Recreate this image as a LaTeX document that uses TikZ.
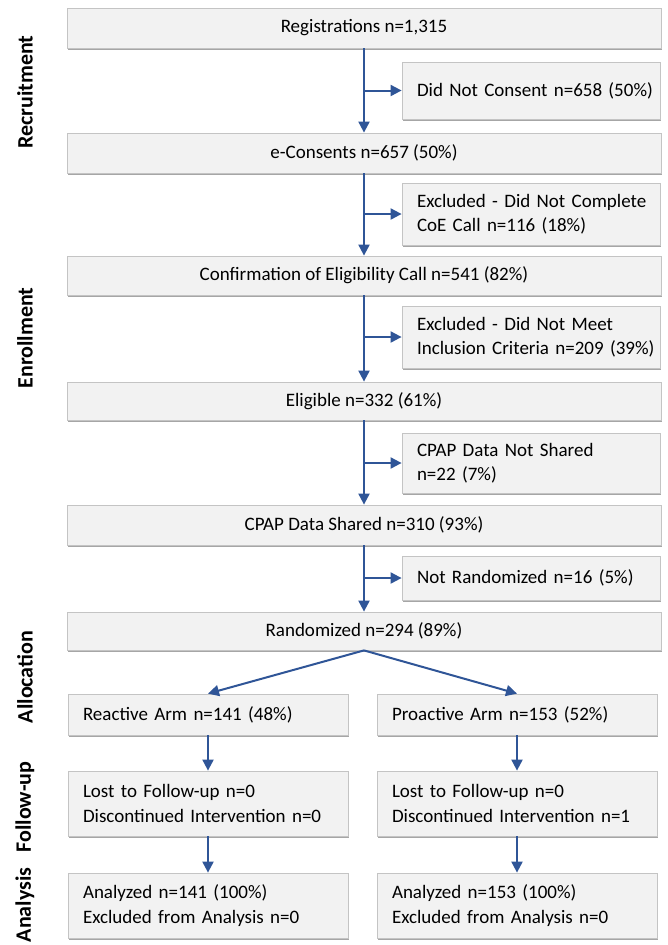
\documentclass[tikz,border=0pt]{standalone}
\usepackage{fontspec}
\setmainfont{Carlito}
\usetikzlibrary{arrows.meta,shadows}
\definecolor{boxfill}{HTML}{F2F2F2}
\definecolor{boxline}{HTML}{C4C4C4}
\definecolor{arrowblue}{HTML}{2F5597}
\tikzset{
  box/.style={draw=boxline, fill=boxfill, line width=0.8pt,
    drop shadow={shadow xshift=1.2pt, shadow yshift=-1.8pt, fill=black, opacity=0.35},
    inner sep=0pt, font=\fontsize{19}{24.5}\selectfont,
    execute at begin node={\hbadness=10000\hfuzz=200pt}},
  wide/.style={box, minimum width=594pt},
  side/.style={box, text width=228pt, inner xsep=15pt, align=left},
  arm/.style={box, text width=250pt, inner xsep=15pt, align=left},
  arr/.style={draw=arrowblue, line width=2pt, -{Triangle[length=11pt,width=11pt]}},
  lab/.style={rotate=90, font=\fontsize{22}{26}\selectfont\bfseries, inner sep=0pt}
}
\begin{document}
\begin{tikzpicture}[x=1pt,y=-1pt]
\useasboundingbox (0,0) rectangle (667,945);
% phase labels
\node[lab] (l1) at (25,92) {Recruitment};
\node[lab] (l2) at (25,338) {Enrollment};
\node[lab] (l3) at (25,677) {Allocation};
\node[lab] (l4) at (25,807) {Follow-up};
\node[lab] (l5) at (25,905) {Analysis};
% main column
\node[wide, minimum height=40pt] (reg) at (364,28) {Registrations n=1,315};
\node[side, minimum height=57pt] (dnc) at (531,90.5) {\mbox{Did Not Consent n=658 (50\%)}};
\node[wide, minimum height=40pt] (econ) at (364,153) {e-Consents n=657 (50\%)};
\node[side, minimum height=62pt] (coe) at (531,214) {\mbox{Excluded - Did Not Complete}\\\mbox{CoE Call n=116 (18\%)}};
\node[wide, minimum height=39pt] (conf) at (364,275.5) {Confirmation of Eligibility Call n=541 (82\%)};
\node[side, minimum height=62pt] (incl) at (531,337) {\mbox{Excluded - Did Not Meet}\\\mbox{Inclusion Criteria n=209 (39\%)}};
\node[wide, minimum height=38pt] (elig) at (364,401) {Eligible n=332 (61\%)};
\node[side, minimum height=60pt] (cpapn) at (531,463) {\mbox{CPAP Data Not Shared}\\\mbox{n=22 (7\%)}};
\node[wide, minimum height=40pt] (cpaps) at (364,525) {CPAP Data Shared n=310 (93\%)};
\node[side, minimum height=44pt] (notr) at (531,578) {\mbox{Not Randomized n=16 (5\%)}};
\node[wide, minimum height=38pt] (rand) at (364,631) {Randomized n=294 (89\%)};
% arms
\node[arm, minimum height=41pt] (react) at (208,714.5) {\mbox{Reactive Arm n=141 (48\%)}};
\node[arm, minimum height=41pt] (proac) at (517,714.5) {\mbox{Proactive Arm n=153 (52\%)}};
\node[arm, minimum height=65pt] (lostl) at (208,803.5) {\mbox{Lost to Follow-up n=0}\\\mbox{Discontinued Intervention n=0}};
\node[arm, minimum height=65pt] (lostr) at (517,803.5) {\mbox{Lost to Follow-up n=0}\\\mbox{Discontinued Intervention n=1}};
\node[arm, minimum height=65pt] (anl) at (208,905.5) {\mbox{Analyzed n=141 (100\%)}\\\mbox{Excluded from Analysis n=0}};
\node[arm, minimum height=65pt] (anr) at (517,905.5) {\mbox{Analyzed n=153 (100\%)}\\\mbox{Excluded from Analysis n=0}};
% spine arrows
\draw[arr] (reg.south) -- (econ.north);
\draw[arr] (reg.south |- dnc.west) -- (dnc.west);
\draw[arr] (econ.south) -- (conf.north);
\draw[arr] (econ.south |- coe.west) -- (coe.west);
\draw[arr] (conf.south) -- (elig.north);
\draw[arr] (conf.south |- incl.west) -- (incl.west);
\draw[arr] (elig.south) -- (cpaps.north);
\draw[arr] (elig.south |- cpapn.west) -- (cpapn.west);
\draw[arr] (cpaps.south) -- (rand.north);
\draw[arr] (cpaps.south |- notr.west) -- (notr.west);
% allocation arrows
\draw[arr] (rand.south) -- (react.north);
\draw[arr] (rand.south) -- (proac.north);
\draw[arr] (react.south) -- (lostl.north);
\draw[arr] (proac.south) -- (lostr.north);
\draw[arr] (lostl.south) -- (anl.north);
\draw[arr] (lostr.south) -- (anr.north);
\end{tikzpicture}
\end{document}
